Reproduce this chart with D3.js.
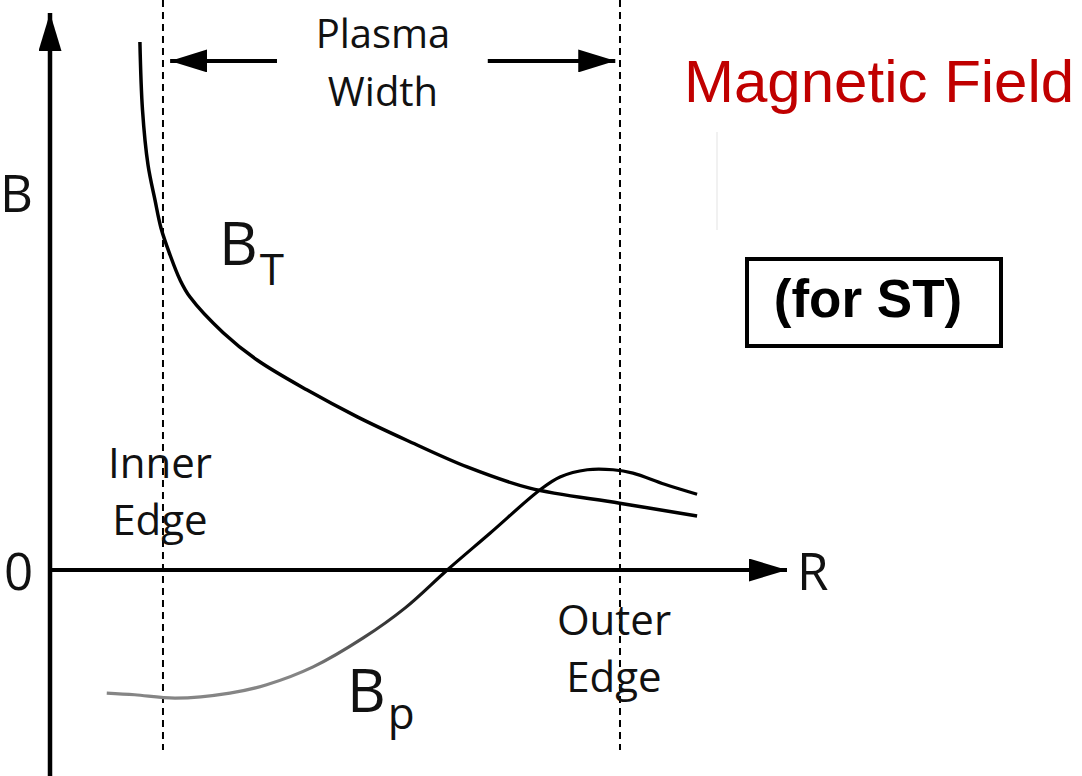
<!DOCTYPE html>
<html>
<head>
<meta charset="utf-8">
<script src="https://cdn.jsdelivr.net/npm/d3@7"></script>
<style>
  html, body { margin: 0; padding: 0; background: #fff; }
  svg { display: block; }
</style>
</head>
<body>
<svg id="chart" width="1082" height="776"></svg>
<script>
// ---- Data (R in arbitrary units 0..100, B in arbitrary units) ----
const btR = [12.2, 12.55, 13.3, 14.25, 15.06, 16.28, 17.64, 19.0, 23.5, 28.1, 34.9, 41.7, 48.4, 56.6, 65.1, 77.3, 87.8];
const btB = [94.8, 82.6, 72.7, 66.4, 61.4, 56.6, 52.1, 49.0, 42.6, 37.7, 32.3, 27.5, 23.3, 18.5, 14.7, 12.0, 9.7];

const bpR = [7.7, 11.5, 17.0, 24.4, 29.4, 35.7, 42.5, 48.2, 53.9, 59.7, 66.5, 69.2, 72.9, 76.4, 79.1, 83.4, 87.8];
const bpB = [-22.1, -22.4, -23.0, -22.1, -20.6, -17.4, -12.2, -6.8, 0, 6.6, 14.4, 16.7, 18.0, 18.0, 17.4, 15.4, 13.6];

const edgeR = { inner: 15.33, outer: 77.34 };
const widthArrowB = 91.4;
const widthArrows = [ { from: 30.8, to: 16.3 }, { from: 59.4, to: 76.7 } ];

const labels = {
  yAxis: "B", xAxis: "R", origin: "0",
  plasma: ["Plasma", "Width"], inner: ["Inner", "Edge"], outer: ["Outer", "Edge"],
  title: "Magnetic Field", box: "(for ST)"
};

// ---- Scales ----
const svg = d3.select("#chart");
const x = d3.scaleLinear().domain([0, 100]).range([50, 787]);
const y = d3.scaleLinear().domain([0, 100]).range([570, 13]);

const defs = svg.append("defs");
function marker(id, w, h) {
  defs.append("marker")
    .attr("id", id).attr("viewBox", `0 0 ${w} ${h}`)
    .attr("refX", w).attr("refY", h / 2)
    .attr("markerWidth", w).attr("markerHeight", h)
    .attr("markerUnits", "userSpaceOnUse")
    .attr("orient", "auto")
    .append("path").attr("d", `M0,0 L${w},${h/2} L0,${h} Z`).attr("fill", "#000");
}
marker("axArrow", 38, 23);
marker("wArrow", 37, 23);

const grad = defs.append("linearGradient").attr("id", "bpGrad")
  .attr("gradientUnits", "userSpaceOnUse")
  .attr("x1", 300).attr("x2", 445).attr("y1", 0).attr("y2", 0);
grad.append("stop").attr("offset", 0).attr("stop-color", "#858585");
grad.append("stop").attr("offset", 1).attr("stop-color", "#000");

// faint artifact line
svg.append("line").attr("x1", 717).attr("x2", 717).attr("y1", 132).attr("y2", 230)
  .attr("stroke", "#f1f1f1").attr("stroke-width", 2);

// ---- Dashed edge lines ----
[edgeR.inner, edgeR.outer].forEach(r => {
  svg.append("line")
    .attr("x1", x(r)).attr("x2", x(r))
    .attr("y1", 0).attr("y2", y(-32.3))
    .attr("stroke", "#000").attr("stroke-width", 2)
    .attr("stroke-dasharray", "7,5");
});

// ---- Axes ----
svg.append("line")
  .attr("x1", x(0)).attr("x2", x(0))
  .attr("y1", 776).attr("y2", y(100))
  .attr("stroke", "#000").attr("stroke-width", 4.5)
  .attr("marker-end", "url(#axArrow)");
svg.append("line")
  .attr("x1", x(0)).attr("x2", x(100))
  .attr("y1", y(0)).attr("y2", y(0))
  .attr("stroke", "#000").attr("stroke-width", 4)
  .attr("marker-end", "url(#axArrow)");

// ---- Plasma width arrows ----
widthArrows.forEach(a => {
  svg.append("line")
    .attr("x1", x(a.from)).attr("x2", x(a.to))
    .attr("y1", y(widthArrowB)).attr("y2", y(widthArrowB))
    .attr("stroke", "#000").attr("stroke-width", 4)
    .attr("marker-end", "url(#wArrow)");
});

// ---- Curves ----
const line = d3.line().x(d => x(d[0])).y(d => y(d[1])).curve(d3.curveCatmullRom.alpha(0.5));
svg.append("path")
  .datum(btR.map((r, i) => [r, btB[i]]))
  .attr("d", line).attr("fill", "none")
  .attr("stroke", "#000").attr("stroke-width", 3.5);
svg.append("path")
  .datum(bpR.map((r, i) => [r, bpB[i]]))
  .attr("d", line).attr("fill", "none")
  .attr("stroke", "url(#bpGrad)").attr("stroke-width", 3.2);

// ---- Text ----
const sans = "'Open Sans', 'DejaVu Sans', sans-serif";
function txt(s, px, py, size, anchor, opts = {}) {
  return svg.append("text").attr("x", px).attr("y", py)
    .attr("font-family", opts.family || sans)
    .attr("font-size", size)
    .attr("font-weight", opts.weight || "normal")
    .attr("fill", opts.fill || "#111")
    .attr("text-anchor", anchor).text(s);
}
txt(labels.plasma[0], 383, 48, 40, "middle");
txt(labels.plasma[1], 383, 106, 40, "middle");
txt(labels.inner[0], 160, 478, 42, "middle");
txt(labels.inner[1], 160, 535, 42, "middle");
txt(labels.outer[0], 614, 635, 42, "middle");
txt(labels.outer[1], 614, 692, 42, "middle");
txt(labels.yAxis, 0, 212, 51, "start");
txt(labels.origin, 4, 590, 51, "start");
txt(labels.xAxis, 797, 590, 51, "start");

// B_T
const bt = svg.append("text").attr("x", 219).attr("y", 265)
  .attr("font-family", sans).attr("font-size", 60).attr("fill", "#111");
bt.append("tspan").text("B");
bt.append("tspan").attr("dy", 20).attr("dx", 2).attr("font-size", 44).text("T");
// B_p
const bp = svg.append("text").attr("x", 347).attr("y", 712)
  .attr("font-family", sans).attr("font-size", 60).attr("fill", "#111");
bp.append("tspan").text("B");
bp.append("tspan").attr("dy", 17).attr("dx", 2).attr("font-size", 44).text("p");

// Title
txt(labels.title, 684, 102, 60, "start", { family: "'Liberation Sans', Arial, sans-serif", fill: "#c00000" });

// Box
svg.append("rect").attr("x", 747).attr("y", 259).attr("width", 254).attr("height", 87)
  .attr("fill", "none").attr("stroke", "#000").attr("stroke-width", 4);
txt(labels.box, 868, 317, 53, "middle", { family: "'Liberation Sans', Arial, sans-serif", weight: "bold", fill: "#000" });
</script>
</body>
</html>
